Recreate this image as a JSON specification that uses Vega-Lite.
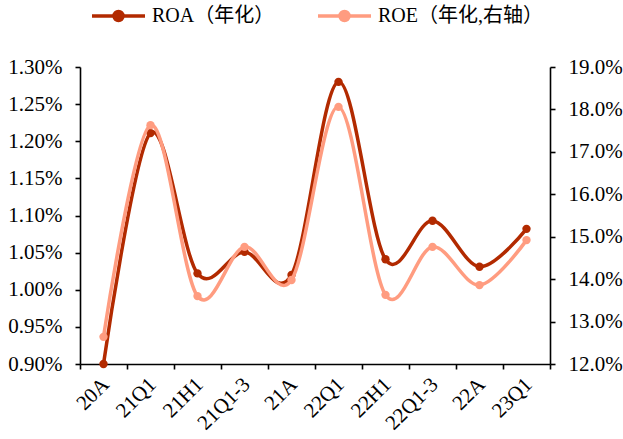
{
  "$schema": "https://vega.github.io/schema/vega-lite/v6.json",
  "width": 470,
  "height": 297,
  "autosize": {"type": "none"},
  "padding": {"left": 80, "top": 67, "right": 73, "bottom": 75},
  "background": "white",
  "config": {
    "view": {"stroke": null},
    "font": "Liberation Serif",
    "axis": {
      "labelFont": "Liberation Serif",
      "labelFontSize": 21,
      "labelColor": "#000000",
      "labelPadding": 13,
      "domainColor": "#000000",
      "domainWidth": 1.6,
      "tickColor": "#000000",
      "tickWidth": 1.6,
      "tickSize": 5,
      "grid": false,
      "title": null
    }
  },
  "data": {
    "values": [
      {"period": "20A", "series": "ROA（年化）", "value": 0.0090},
      {"period": "21Q1", "series": "ROA（年化）", "value": 0.01211},
      {"period": "21H1", "series": "ROA（年化）", "value": 0.01022},
      {"period": "21Q1-3", "series": "ROA（年化）", "value": 0.01051},
      {"period": "21A", "series": "ROA（年化）", "value": 0.01020},
      {"period": "22Q1", "series": "ROA（年化）", "value": 0.01280},
      {"period": "22H1", "series": "ROA（年化）", "value": 0.01041},
      {"period": "22Q1-3", "series": "ROA（年化）", "value": 0.01093},
      {"period": "22A", "series": "ROA（年化）", "value": 0.01031},
      {"period": "23Q1", "series": "ROA（年化）", "value": 0.01082},
      {"period": "20A", "series": "ROE（年化,右轴）", "value": 0.1264},
      {"period": "21Q1", "series": "ROE（年化,右轴）", "value": 0.1763},
      {"period": "21H1", "series": "ROE（年化,右轴）", "value": 0.1360},
      {"period": "21Q1-3", "series": "ROE（年化,右轴）", "value": 0.1476},
      {"period": "21A", "series": "ROE（年化,右轴）", "value": 0.1398},
      {"period": "22Q1", "series": "ROE（年化,右轴）", "value": 0.1806},
      {"period": "22H1", "series": "ROE（年化,右轴）", "value": 0.1363},
      {"period": "22Q1-3", "series": "ROE（年化,右轴）", "value": 0.1476},
      {"period": "22A", "series": "ROE（年化,右轴）", "value": 0.1386},
      {"period": "23Q1", "series": "ROE（年化,右轴）", "value": 0.1492}
    ]
  },
  "encoding": {
    "x": {
      "field": "period",
      "type": "ordinal",
      "sort": null,
      "bandPosition": 0.5,
      "scale": {"type": "band", "paddingInner": 0, "paddingOuter": 0},
      "axis": {"tickBand": "extent", "labelAngle": -45, "labelAlign": "right", "labelBaseline": "middle", "labelPadding": 12, "labelOffset": 2}
    },
    "color": {
      "field": "series",
      "type": "nominal",
      "scale": {"domain": ["ROA（年化）", "ROE（年化,右轴）"], "range": ["#B22A00", "#FF9C80"]},
      "legend": {
        "title": null,
        "orient": "none",
        "legendX": 10,
        "legendY": -80,
        "direction": "horizontal",
        "labelFont": "Liberation Serif, Noto Sans CJK SC",
        "labelFontSize": 20,
        "labelColor": "#000000",
        "labelLimit": 400,
        "symbolType": "M-1,0H1M-0.17,0A0.17,0.17 0 1,0 0.17,0A0.17,0.17 0 1,0 -0.17,0Z",
        "symbolSize": 2809,
        "symbolStrokeWidth": 3.5,
        "labelOffset": 5,
        "columnPadding": 36,
        "encode": {"symbols": {"update": {"fill": {"scale": "color", "field": "value"}, "fillOpacity": {"value": 1}}}}
      }
    }
  },
  "layer": [
    {
      "transform": [{"filter": "datum.series === 'ROA（年化）'"}],
      "mark": {"type": "line", "interpolate": "cardinal", "strokeWidth": 3.5, "point": {"filled": true, "size": 70, "opacity": 1}},
      "encoding": {
        "y": {
          "field": "value",
          "type": "quantitative",
          "scale": {"domain": [0.009, 0.013], "nice": false, "zero": false},
          "axis": {"orient": "left", "format": ".2%", "values": [0.009, 0.0095, 0.010, 0.0105, 0.011, 0.0115, 0.012, 0.0125, 0.013]}
        }
      }
    },
    {
      "transform": [{"filter": "datum.series === 'ROE（年化,右轴）'"}],
      "mark": {"type": "line", "interpolate": "cardinal", "strokeWidth": 3.5, "point": {"filled": true, "size": 70, "opacity": 1}},
      "encoding": {
        "y": {
          "field": "value",
          "type": "quantitative",
          "scale": {"domain": [0.12, 0.19], "nice": false, "zero": false},
          "axis": {"orient": "right", "format": ".1%", "values": [0.12, 0.13, 0.14, 0.15, 0.16, 0.17, 0.18, 0.19]}
        }
      }
    }
  ],
  "resolve": {"scale": {"y": "independent"}}
}
